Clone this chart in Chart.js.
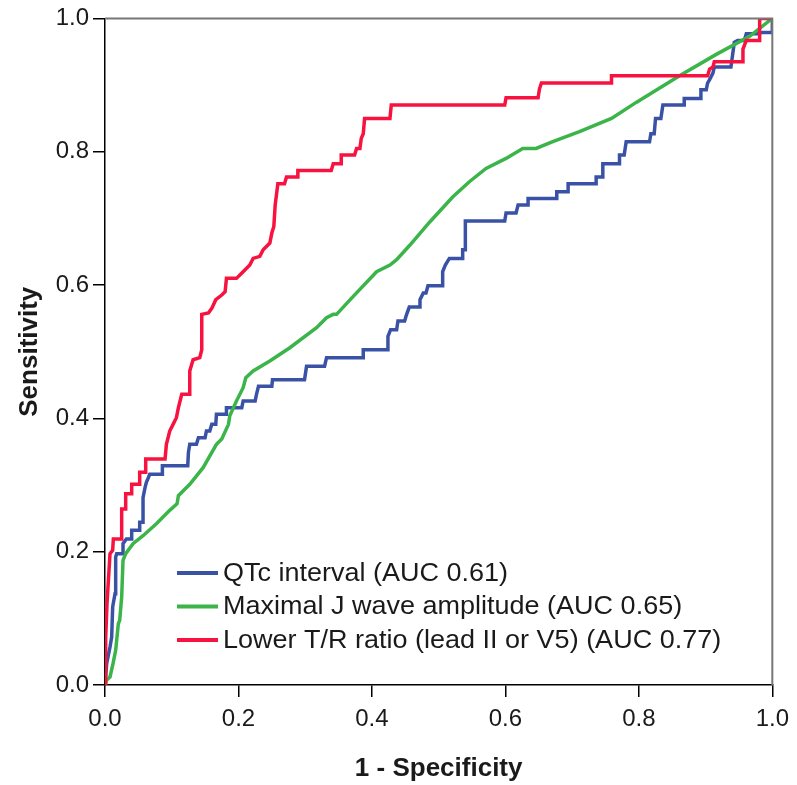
<!DOCTYPE html>
<html>
<head>
<meta charset="utf-8">
<script src="https://cdn.jsdelivr.net/npm/chart.js@4/dist/chart.umd.min.js"></script>
<style>
  html, body { margin: 0; padding: 0; background: #ffffff; }
  #wrap { width: 797px; height: 785px; position: relative; }
</style>
</head>
<body>
<div id="wrap"><canvas id="c" width="797" height="785"></canvas></div>
<script>
// ---- data ----
const tickValues = [0.0, 0.2, 0.4, 0.6, 0.8, 1.0];
const seriesLabels = [
  "QTc interval (AUC 0.61)",
  "Maximal J wave amplitude (AUC 0.65)",
  "Lower T/R ratio (lead II or V5) (AUC 0.77)"
];

const qtcX = [0,0.0025,0.0075,0.010,0.0115,0.015,0.016,0.0175,0.027,0.027,0.032,0.040,0.040,0.052,0.052,0.057,0.057,0.060,0.062,0.065,0.067,0.086,0.086,0.124,0.125,0.127,0.137,0.140,0.150,0.152,0.157,0.160,0.166,0.167,0.182,0.182,0.205,0.207,0.225,0.227,0.230,0.250,0.251,0.299,0.302,0.329,0.332,0.387,0.387,0.424,0.424,0.428,0.437,0.439,0.449,0.452,0.456,0.472,0.472,0.477,0.481,0.484,0.506,0.506,0.510,0.516,0.536,0.536,0.540,0.540,0.599,0.601,0.616,0.619,0.634,0.634,0.677,0.677,0.694,0.694,0.736,0.736,0.746,0.746,0.771,0.771,0.778,0.781,0.816,0.818,0.823,0.825,0.833,0.836,0.868,0.868,0.893,0.893,0.901,0.903,0.906,0.911,0.913,0.938,0.943,0.948,0.958,0.961,0.978,0.985,1.0,1.0];
const qtcY = [0,0.032,0.057,0.072,0.117,0.137,0.192,0.197,0.197,0.212,0.219,0.219,0.232,0.232,0.244,0.244,0.281,0.296,0.304,0.311,0.316,0.316,0.329,0.329,0.349,0.361,0.361,0.371,0.371,0.381,0.381,0.391,0.391,0.406,0.406,0.416,0.416,0.426,0.426,0.436,0.448,0.448,0.458,0.458,0.478,0.478,0.491,0.491,0.503,0.503,0.523,0.533,0.533,0.546,0.546,0.556,0.567,0.567,0.578,0.588,0.588,0.599,0.599,0.620,0.630,0.640,0.640,0.653,0.653,0.696,0.696,0.708,0.708,0.720,0.720,0.730,0.730,0.740,0.740,0.752,0.752,0.762,0.762,0.782,0.782,0.795,0.795,0.815,0.815,0.827,0.827,0.850,0.850,0.870,0.870,0.880,0.880,0.893,0.893,0.903,0.908,0.918,0.927,0.927,0.964,0.967,0.967,0.977,0.977,0.979,0.979,1.0];

const jwaveX = [0,0.0025,0.0075,0.012,0.016,0.020,0.022,0.025,0.027,0.031,0.042,0.057,0.077,0.097,0.108,0.110,0.127,0.147,0.167,0.175,0.185,0.187,0.197,0.207,0.211,0.222,0.247,0.277,0.317,0.332,0.342,0.347,0.372,0.407,0.427,0.437,0.457,0.487,0.521,0.546,0.571,0.601,0.626,0.646,0.671,0.711,0.759,0.796,0.861,0.916,0.966,1.0];
const jwaveY = [0,0.0075,0.012,0.032,0.052,0.092,0.097,0.132,0.187,0.197,0.212,0.224,0.242,0.262,0.272,0.284,0.301,0.326,0.361,0.369,0.391,0.404,0.426,0.446,0.461,0.471,0.486,0.506,0.536,0.551,0.556,0.556,0.583,0.620,0.630,0.638,0.660,0.695,0.732,0.755,0.775,0.790,0.805,0.805,0.815,0.830,0.850,0.874,0.914,0.946,0.973,1.0];

const trX = [0,0.001,0.003,0.0075,0.0115,0.0125,0.025,0.025,0.031,0.031,0.040,0.040,0.052,0.052,0.061,0.061,0.090,0.092,0.097,0.102,0.107,0.110,0.115,0.127,0.127,0.132,0.142,0.145,0.145,0.155,0.160,0.166,0.175,0.180,0.182,0.197,0.207,0.217,0.222,0.232,0.237,0.247,0.250,0.253,0.255,0.259,0.269,0.272,0.289,0.289,0.339,0.342,0.354,0.354,0.374,0.377,0.382,0.384,0.387,0.389,0.427,0.429,0.599,0.601,0.649,0.651,0.654,0.759,0.759,0.903,0.906,0.911,0.913,0.956,0.956,0.961,0.981,0.981,1.0];
const trY = [0,0.070,0.122,0.197,0.202,0.219,0.219,0.264,0.264,0.287,0.287,0.301,0.301,0.319,0.319,0.339,0.339,0.361,0.381,0.391,0.401,0.416,0.436,0.436,0.471,0.488,0.491,0.503,0.556,0.558,0.565,0.578,0.585,0.590,0.610,0.610,0.620,0.630,0.640,0.643,0.653,0.663,0.678,0.688,0.720,0.752,0.752,0.762,0.762,0.772,0.772,0.782,0.782,0.795,0.795,0.805,0.805,0.820,0.827,0.850,0.850,0.870,0.870,0.881,0.881,0.894,0.903,0.903,0.914,0.914,0.924,0.927,0.935,0.935,0.954,0.967,0.967,1.0,1.0];

const seriesColors = ["#3a52a6", "#3bb44a", "#f7123f"];

// ---- build datasets ----
function pts(xs, ys) { return xs.map((x, i) => ({ x: x, y: ys[i] })); }
const datasets = [
  { label: seriesLabels[0], data: pts(qtcX, qtcY), borderColor: seriesColors[0], order: 2 },
  { label: seriesLabels[1], data: pts(jwaveX, jwaveY), borderColor: seriesColors[1], order: 1 },
  { label: seriesLabels[2], data: pts(trX, trY), borderColor: seriesColors[2], order: 0 }
].map(d => Object.assign(d, {
  backgroundColor: d.borderColor, borderWidth: 3.5, pointRadius: 0,
  tension: 0, fill: false, showLine: true, borderCapStyle: 'butt'
}));

const FONT = "'Liberation Sans', Arial, Helvetica, sans-serif";

const framePlugin = {
  id: 'frame',
  afterDatasetsDraw(chart) {
    const { ctx, chartArea: a } = chart;
    ctx.save();
    ctx.strokeStyle = '#777777';
    ctx.lineWidth = 2;
    ctx.beginPath();
    ctx.moveTo(a.left, a.top);
    ctx.lineTo(a.right, a.top);
    ctx.lineTo(a.right, a.bottom);
    ctx.stroke();
    ctx.restore();
  },
  afterDraw(chart) {
    // legend inside plot area
    const { ctx, chartArea: a } = chart;
    const x0 = a.left + 72, y0 = a.bottom - 112, rowH = 33.5;
    ctx.save();
    ctx.font = "25px " + FONT;
    ctx.textBaseline = 'middle';
    ctx.textAlign = 'left';
    chart.data.datasets.forEach((ds, i) => {
      const y = y0 + i * rowH;
      ctx.strokeStyle = ds.borderColor;
      ctx.lineWidth = 4;
      ctx.beginPath();
      ctx.moveTo(x0, y);
      ctx.lineTo(x0 + 41, y);
      ctx.stroke();
      ctx.fillStyle = '#1a1a1a';
      ctx.save();
      ctx.translate(x0 + 46, y + 1);
      ctx.scale(1.08, 1);
      ctx.fillText(ds.label, 0, 0);
      ctx.restore();
    });
    ctx.restore();
  }
};

const axisCommon = {
  type: 'linear', min: 0, max: 1,
  ticks: {
    stepSize: 0.2, color: '#1a1a1a',
    font: { family: FONT, size: 24 },
    callback: v => v.toFixed(1)
  },
  grid: { drawOnChartArea: false, drawTicks: true, tickLength: 12, color: '#000000', lineWidth: 1.5 },
  border: { display: true, color: '#000000', width: 1.5 }
};

new Chart(document.getElementById('c'), {
  type: 'line',
  data: { datasets: datasets },
  plugins: [framePlugin],
  options: {
    responsive: false,
    animation: false,
    events: [],
    layout: { padding: { top: 16, right: 24, left: 0, bottom: 0 } },
    plugins: { legend: { display: false }, tooltip: { enabled: false } },
    scales: {
      x: Object.assign({}, axisCommon, {
        position: 'bottom',
        ticks: Object.assign({}, axisCommon.ticks, { padding: 8, maxRotation: 0 }),
        afterBuildTicks: s => { s.ticks = tickValues.map(v => ({ value: v })); },
        afterFit: s => { s.height = 100; },
        title: { display: true, text: '1 - Specificity', color: '#1a1a1a',
                 font: { family: FONT, size: 26, weight: 'bold' }, padding: { top: 0, bottom: 1 } }
      }),
      y: Object.assign({}, axisCommon, {
        position: 'left',
        ticks: Object.assign({}, axisCommon.ticks, { padding: 4 }),
        afterBuildTicks: s => { s.ticks = tickValues.map(v => ({ value: v })); },
        afterFit: s => { s.width = 105; },
        title: { display: true, text: 'Sensitivity', color: '#1a1a1a',
                 font: { family: FONT, size: 26, weight: 'bold' }, padding: { top: 14, bottom: 0 } }
      })
    }
  }
});
</script>
</body>
</html>
